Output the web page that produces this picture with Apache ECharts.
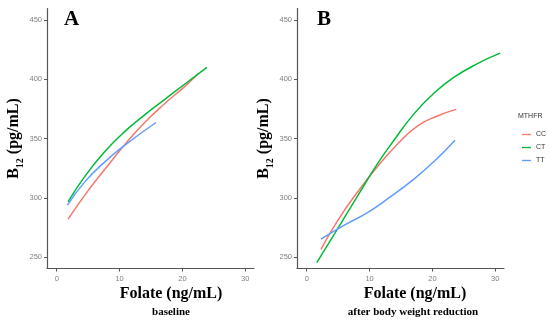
<!DOCTYPE html>
<html><head><meta charset="utf-8">
<script src="https://cdn.jsdelivr.net/npm/echarts@6/dist/echarts.min.js"></script>
<style>html,body{margin:0;padding:0;background:#fff}#c{width:550px;height:324px}</style>
</head><body><div id="c"></div>
<script>
// Panel A (baseline)
const aFolateCC = [1.8, 5.0, 7.66, 10.85, 14.0, 17.2, 20.4, 22.6];
const aB12CC    = [282, 306, 324, 345, 363.5, 379.5, 394, 405];
const aFolateCT = [1.8, 4.47, 7.66, 10.85, 14.0, 17.2, 20.4, 23.9];
const aB12CT    = [296.6, 318, 339, 356, 370, 383, 396, 410];
const aFolateTT = [1.7, 4.47, 7.66, 10.85, 15.8];
const aB12TT    = [293.8, 313.4, 330.3, 344.4, 363.5];
// Panel B (after body weight reduction)
const bFolateCC = [2.26, 5.0, 8.15, 11.3, 14.5, 17.6, 20.8, 23.8];
const bB12CC    = [256.5, 281.4, 305.3, 326.5, 345.5, 360.5, 369, 374.6];
const bFolateCT = [1.6, 4.47, 8.15, 11.3, 13.95, 17.1, 20.3, 23.4, 27.1, 30.8];
const bB12CT    = [245.2, 270, 302, 329, 349, 371, 388.5, 401.5, 413, 422];
const bFolateTT = [2.26, 6.05, 9.74, 13.4, 16.6, 20.3, 23.6];
const bB12TT    = [265, 277.1, 287.6, 301.1, 313.8, 330.8, 348.6];
const xTicks = [0, 10, 20, 30];
const yTicks = [250, 300, 350, 400, 450];
const groups = ['CC', 'CT', 'TT'];
const colors = ['#F8766D', '#00BA38', '#619CFF'];

const zip = (xs, ys) => xs.map((x, i) => [x, ys[i]]);
const serif = '"Liberation Serif", "DejaVu Serif", serif';

function xAxis(gi) {
  return {
    gridIndex: gi, type: 'value', min: -1.55, max: 31.4,
    axisLine: { show: true, onZero: false, lineStyle: { color: '#555', width: 1.2 } },
    axisTick: { show: true, length: 3, customValues: xTicks, lineStyle: { color: '#555' } },
    axisLabel: { customValues: xTicks, color: '#808080', fontSize: 7.5, margin: 6, fontFamily: 'Liberation Sans, Arial' },
    splitLine: { show: false }
  };
}
function yAxis(gi) {
  return {
    gridIndex: gi, type: 'value', min: 240.3, max: 459.7,
    name: '{n|B}{s|12}{n| (pg/mL)}', nameLocation: 'middle', nameRotate: 90, nameGap: 21,
    nameTextStyle: { rich: {
      n: { fontFamily: serif, fontWeight: 'bold', fontSize: 16, color: '#000', verticalAlign: 'bottom', padding: [0, 0, 4, 0] },
      s: { fontFamily: serif, fontWeight: 'bold', fontSize: 10, color: '#000', verticalAlign: 'bottom' }
    } },
    axisLine: { show: true, onZero: false, lineStyle: { color: '#555', width: 1.2 } },
    axisTick: { show: true, length: 3, customValues: yTicks, lineStyle: { color: '#555' } },
    axisLabel: { customValues: yTicks, color: '#808080', fontSize: 7.5, margin: 5, fontFamily: 'Liberation Sans, Arial' },
    splitLine: { show: false }
  };
}
const panels = [
  [zip(aFolateCC, aB12CC), zip(aFolateCT, aB12CT), zip(aFolateTT, aB12TT)],
  [zip(bFolateCC, bB12CC), zip(bFolateCT, bB12CT), zip(bFolateTT, bB12TT)]
];
const series = [];
panels.forEach((p, gi) => p.forEach((d, k) => series.push({
  type: 'line', name: groups[k], xAxisIndex: gi, yAxisIndex: gi, data: d,
  smooth: 0.5, showSymbol: false, symbol: 'none', silent: true,
  lineStyle: { color: colors[k], width: 1.5 }, itemStyle: { color: colors[k] }
})));

const chart = echarts.init(document.getElementById('c'), null, { renderer: 'canvas' });
chart.setOption({
  animation: false,
  backgroundColor: '#fff',
  grid: [
    { left: 47, top: 8.5, width: 207, height: 260 },
    { left: 297, top: 8.5, width: 207, height: 260 }
  ],
  xAxis: [xAxis(0), xAxis(1)],
  yAxis: [yAxis(0), yAxis(1)],
  legend: {
    data: groups.map((g, k) => ({ name: g, icon: 'path://M0,0 L10,0 L10,1.5 L0,1.5 Z' })),
    orient: 'vertical', left: 517, top: 126, itemWidth: 9, itemHeight: 2, itemGap: 6,
    textStyle: { fontSize: 7, color: '#333', fontFamily: 'Liberation Sans, Arial' }
  },
  graphic: [
    { type: 'text', left: 64, top: 9, style: { text: 'A', font: 'bold 21px ' + serif, fill: '#000' } },
    { type: 'text', left: 317, top: 9, style: { text: 'B', font: 'bold 21px ' + serif, fill: '#000' } },
    { type: 'text', x: 171, y: 294, style: { text: 'Folate (ng/mL)', font: 'bold 16px ' + serif, fill: '#000', align: 'center', verticalAlign: 'middle' } },
    { type: 'text', x: 171, y: 312, style: { text: 'baseline', font: 'bold 11px ' + serif, fill: '#000', align: 'center', verticalAlign: 'middle' } },
    { type: 'text', x: 415, y: 294, style: { text: 'Folate (ng/mL)', font: 'bold 16px ' + serif, fill: '#000', align: 'center', verticalAlign: 'middle' } },
    { type: 'text', x: 413, y: 312, style: { text: 'after body weight reduction', font: 'bold 11px ' + serif, fill: '#000', align: 'center', verticalAlign: 'middle' } },
    { type: 'text', left: 518, top: 113, style: { text: 'MTHFR', font: '7px Liberation Sans, Arial', fill: '#333' } }
  ],
  series: series
});
</script></body></html>
